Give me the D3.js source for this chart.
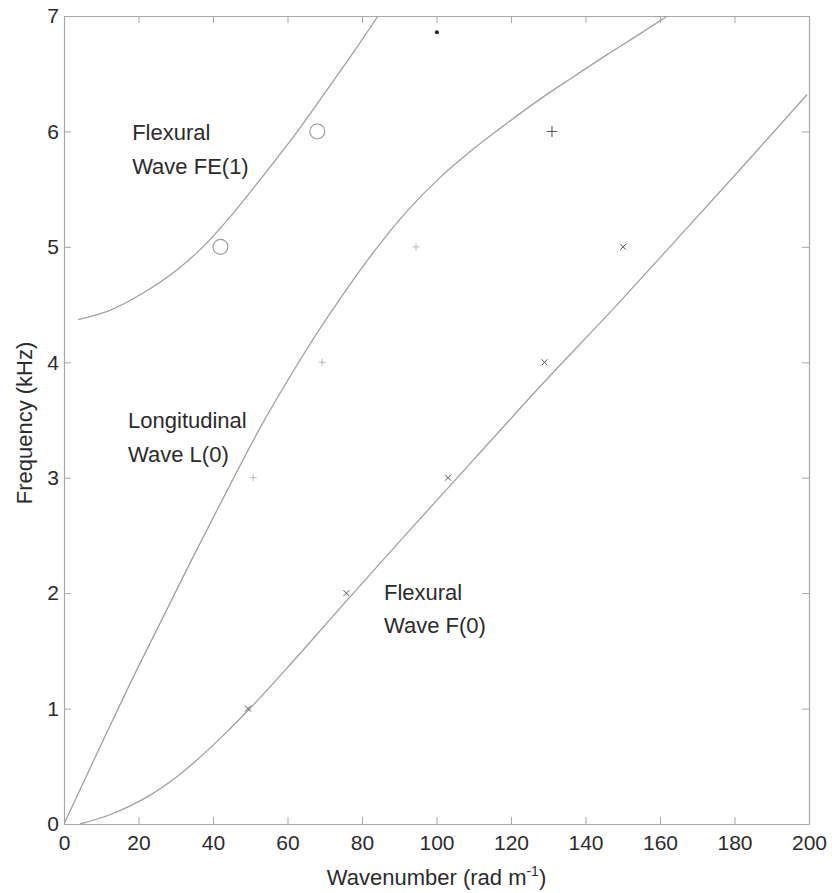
<!DOCTYPE html>
<html>
<head>
<meta charset="utf-8">
<script src="https://cdnjs.cloudflare.com/ajax/libs/d3/7.8.5/d3.min.js"></script>
<style>
  html, body { margin: 0; padding: 0; background: #fff; }
  svg { display: block; font-family: "Liberation Sans", Arial, sans-serif; }
  .tick text { fill: #2b2b2b; font-size: 21px; }
  .lbl { fill: #2b2b2b; font-size: 22px; }
</style>
</head>
<body>
<svg id="chart" width="832" height="893"></svg>
<script>
// Dispersion curves: wavenumber (rad/m) vs frequency (kHz)
const fe1K = [3.8, 12.3, 21.2, 30.3, 37.3, 45.4, 52.6, 61.5, 70.6, 77.6, 84.3];
const fe1F = [4.37, 4.45, 4.60, 4.80, 5.00, 5.29, 5.58, 5.95, 6.36, 6.68, 7.0];

const l0K = [0, 9.7, 16.9, 25.8, 34.6, 43.8, 52.6, 61.5, 69.5, 74.1, 83.0, 92.1, 100.9, 109.8, 118.9, 127.8, 136.6, 145.8, 154.6, 162.0];
const l0F = [0, 0.67, 1.16, 1.74, 2.31, 2.89, 3.43, 3.92, 4.33, 4.55, 4.95, 5.31, 5.60, 5.845, 6.07, 6.28, 6.47, 6.665, 6.845, 7.0];

const f0K = [4.3, 12.3, 23.1, 30.3, 43.8, 49.9, 61.5, 74.1, 92.1, 109.8, 127.8, 148.5, 163.5, 181.5, 199.5];
const f0F = [0.0, 0.08, 0.25, 0.41, 0.80, 1.00, 1.41, 1.87, 2.52, 3.15, 3.79, 4.50, 5.03, 5.67, 6.32];

// Measured points
const circleK = [42, 68];
const circleF = [5, 6];
const plusK = [50.8, 69.3, 94.5];
const plusF = [3, 4, 5];
const plusBoldK = [131];
const plusBoldF = [6];
const crossK = [49.4, 75.8, 103.1, 129, 150.1];
const crossF = [1, 2, 3, 4, 5];
const dotK = [100.1];
const dotF = [6.86];

// Axis ticks
const xTicks = [0, 20, 40, 60, 80, 100, 120, 140, 160, 180, 200];
const yTicks = [0, 1, 2, 3, 4, 5, 6, 7];

const svg = d3.select("#chart");
const plotL = 64, plotR = 809, plotT = 16, plotB = 824;

const x = d3.scaleLinear().domain([0, 200]).range([plotL, plotR]);
const y = d3.scaleLinear().domain([0, 7]).range([plotB, plotT]);

const axisColor = "#a8a8a8";

svg.append("rect").attr("width", 832).attr("height", 893).attr("fill", "#fff");

function styleAxis(g) {
  g.attr("font-family", null).attr("font-size", null);
  g.select(".domain").attr("stroke", axisColor).attr("stroke-width", 1.2);
  g.selectAll(".tick line").attr("stroke", axisColor).attr("stroke-width", 1);
}

svg.append("g").attr("transform", `translate(0,${plotB})`)
  .call(d3.axisBottom(x).tickValues(xTicks).tickSize(-7).tickSizeOuter(0).tickPadding(11).tickFormat(d3.format("d")))
  .call(styleAxis);

svg.append("g").attr("transform", `translate(0,${plotT})`)
  .call(d3.axisTop(x).tickValues(xTicks).tickSize(-7).tickSizeOuter(0).tickFormat(""))
  .call(styleAxis);

svg.append("g").attr("transform", `translate(${plotL},0)`)
  .call(d3.axisLeft(y).tickValues(yTicks).tickSize(-7).tickSizeOuter(0).tickPadding(5).tickFormat(d3.format("d")))
  .call(styleAxis);

svg.append("g").attr("transform", `translate(${plotR},0)`)
  .call(d3.axisRight(y).tickValues(yTicks).tickSize(-7).tickSizeOuter(0).tickFormat(""))
  .call(styleAxis);

// Curves
svg.append("defs").append("clipPath").attr("id", "plotClip")
  .append("rect").attr("x", plotL).attr("y", plotT).attr("width", plotR - plotL).attr("height", plotB - plotT);

const line = d3.line().x(d => x(d[0])).y(d => y(d[1])).curve(d3.curveMonotoneX);
const curves = [
  d3.zip(fe1K, fe1F),
  d3.zip(l0K, l0F),
  d3.zip(f0K, f0F)
];
svg.append("g").attr("clip-path", "url(#plotClip)")
  .selectAll("path").data(curves).join("path")
  .attr("d", line)
  .attr("fill", "none")
  .attr("stroke", "#a0a0a0")
  .attr("stroke-width", 1.3);

// Markers
svg.append("g").selectAll("circle").data(d3.zip(circleK, circleF)).join("circle")
  .attr("cx", d => x(d[0])).attr("cy", d => y(d[1])).attr("r", 7.5)
  .attr("fill", "none").attr("stroke", "#9a9a9a").attr("stroke-width", 1.1);

function plus(g, data, s, color, w) {
  g.selectAll("path").data(data).join("path")
    .attr("d", d => { const cx = x(d[0]), cy = y(d[1]);
      return `M${cx - s},${cy}H${cx + s}M${cx},${cy - s}V${cy + s}`; })
    .attr("stroke", color).attr("stroke-width", w).attr("fill", "none");
}
function cross(g, data, s, color, w) {
  g.selectAll("path").data(data).join("path")
    .attr("d", d => { const cx = x(d[0]), cy = y(d[1]);
      return `M${cx - s},${cy - s}L${cx + s},${cy + s}M${cx - s},${cy + s}L${cx + s},${cy - s}`; })
    .attr("stroke", color).attr("stroke-width", w).attr("fill", "none");
}
plus(svg.append("g"), d3.zip(plusK, plusF), 3.5, "#b8b8b8", 1);
plus(svg.append("g"), d3.zip(plusBoldK, plusBoldF), 5.5, "#555", 1.1);
cross(svg.append("g"), d3.zip(crossK, crossF), 3, "#555", 1);

svg.append("g").selectAll("circle").data(d3.zip(dotK, dotF)).join("circle")
  .attr("cx", d => x(d[0])).attr("cy", d => y(d[1])).attr("r", 2)
  .attr("fill", "#222");

// Curve annotations
const notes = [
  { t: "Flexural", k: 18.3, f: 5.93 },
  { t: "Wave FE(1)", k: 18.3, f: 5.63 },
  { t: "Longitudinal", k: 17.2, f: 3.43 },
  { t: "Wave L(0)", k: 17.2, f: 3.135 },
  { t: "Flexural", k: 85.9, f: 1.94 },
  { t: "Wave F(0)", k: 85.9, f: 1.655 }
];
svg.append("g").selectAll("text").data(notes).join("text")
  .attr("class", "lbl")
  .attr("x", d => x(d.k)).attr("y", d => y(d.f))
  .text(d => d.t);

// Axis titles
const xt = svg.append("text").attr("class", "lbl")
  .attr("x", (plotL + plotR) / 2).attr("y", 885).attr("text-anchor", "middle");
xt.append("tspan").text("Wavenumber (rad m");
xt.append("tspan").attr("font-size", 14).attr("dy", -9).text("-1");
xt.append("tspan").attr("dy", 9).text(")");

svg.append("text").attr("class", "lbl")
  .attr("transform", `translate(32,${(plotT + plotB) / 2 + 3}) rotate(-90)`)
  .attr("text-anchor", "middle")
  .text("Frequency (kHz)");
</script>
</body>
</html>
